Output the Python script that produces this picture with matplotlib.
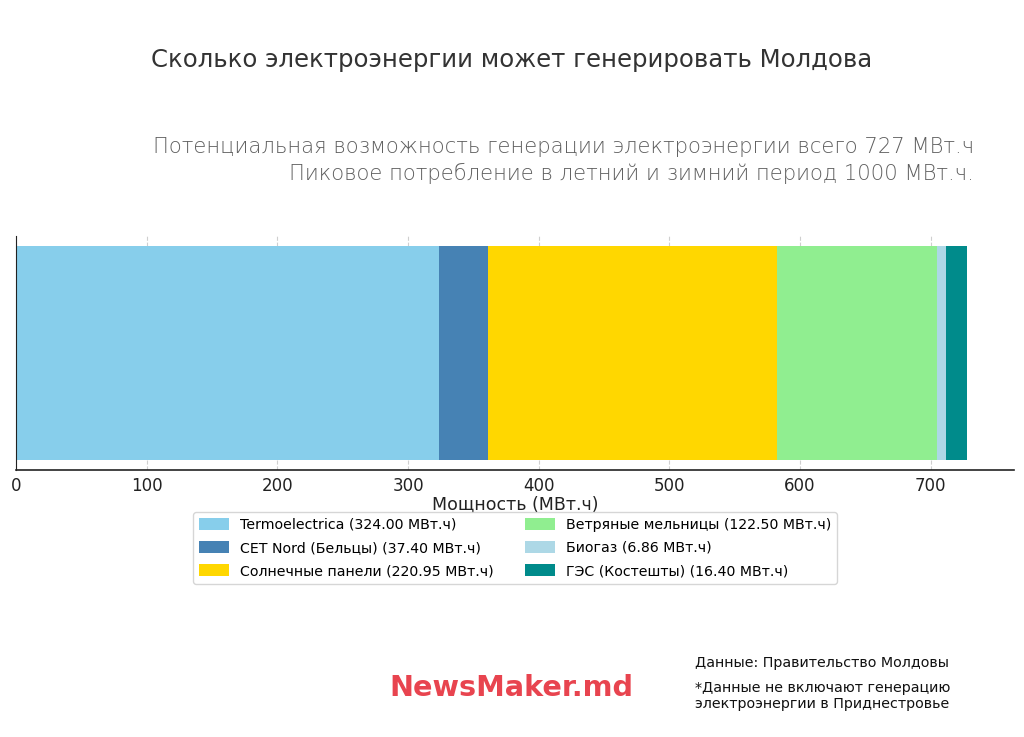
import matplotlib

matplotlib.use("Agg")
import matplotlib.pyplot as plt

SOURCES = [
    "Termoelectrica",
    "CET Nord (Бельцы)",
    "Солнечные панели",
    "Ветряные мельницы",
    "Биогаз",
    "ГЭС (Костешты)",
]
POWER = [324.00, 37.40, 220.95, 122.50, 6.86, 16.40]
COLORS = ["#87CEEB", "#4682B4", "#FFD700", "#90EE90", "#ADD8E6", "#008B8B"]

plt.rcParams["font.family"] = ["DejaVu Sans"]

fig = plt.figure(figsize=(10.24, 7.37), dpi=100)
ax = fig.add_axes([0.0156, 0.362, 0.975, 0.318])

left = 0
for name, value, color in zip(SOURCES, POWER, COLORS):
    ax.barh(0, value, left=left, color=color, height=0.8,
            label=f"{name} ({value:.2f} МВт.ч)", zorder=2)
    left += value

ax.set_xlim(0, 764)
ax.set_ylim(-0.44, 0.44)
ax.set_yticks([])
ax.spines["top"].set_visible(False)
ax.spines["right"].set_visible(False)
ax.spines["left"].set_color("#222222")
ax.spines["bottom"].set_color("#222222")
ax.spines["bottom"].set_linewidth(1.2)
ax.xaxis.grid(True, linestyle="--", color="#bbbbbb", alpha=0.7, zorder=0)
ax.tick_params(axis="x", labelsize=12, colors="#222222", length=0, pad=5)
ax.set_xlabel("Мощность (МВт.ч)", fontsize=12.5, color="#222222", labelpad=0)

ax.legend(loc="upper center", bbox_to_anchor=(0.5, -0.148), ncol=2,
          fontsize=10.2, frameon=True, edgecolor="#cccccc",
          handlelength=2.1, handleheight=0.9, columnspacing=2.2,
          labelspacing=0.65)

fig.text(0.5, 0.918, "Сколько электроэнергии может генерировать Молдова",
         ha="center", va="center", fontsize=17.6, color="#333333")
fig.text(0.951, 0.8, "Потенциальная возможность генерации электроэнергии всего 727 МВт.ч",
         ha="right", va="center", fontsize=15.2, color="#5f5f5f", fontweight="light")
fig.text(0.951, 0.765, "Пиковое потребление в летний и зимний период 1000 МВт.ч.",
         ha="right", va="center", fontsize=15.2, color="#5f5f5f", fontweight="light")

fig.text(0.679, 0.101, "Данные: Правительство Молдовы",
         ha="left", va="center", fontsize=10.3, color="#111111")
fig.text(0.679, 0.056, "*Данные не включают генерацию\nэлектроэнергии в Приднестровье",
         ha="left", va="center", fontsize=10.3, color="#111111", linespacing=1.2)
fig.text(0.499, 0.067, "NewsMaker.md", ha="center", va="center",
         fontsize=20.7, fontweight="bold", color="#E8444F")

fig.savefig("out.png", dpi=100)
plt.close(fig)
